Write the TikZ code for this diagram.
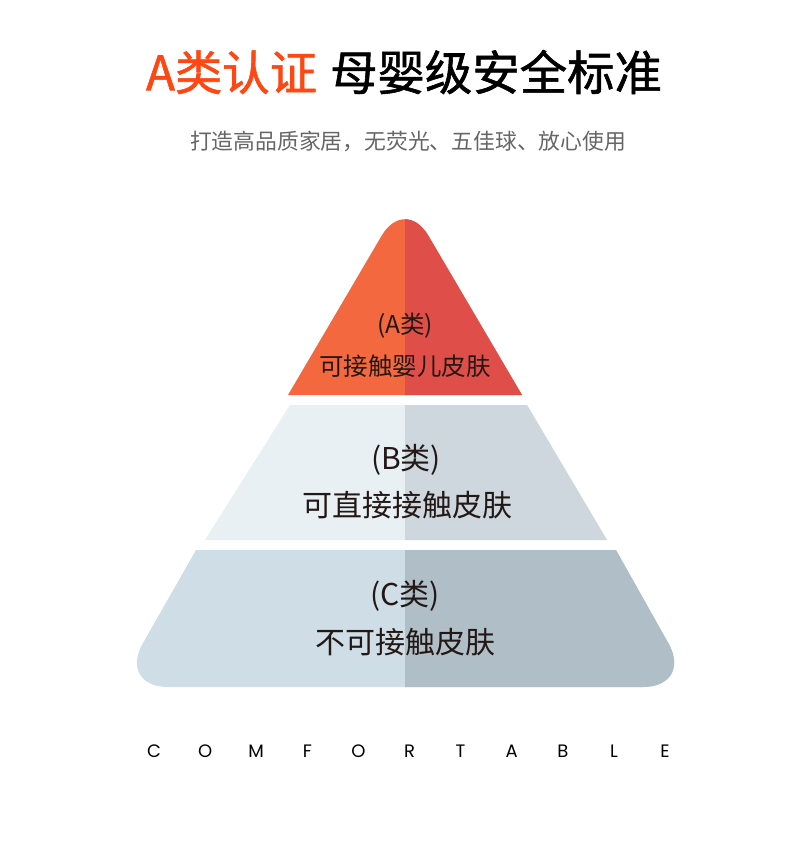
\documentclass[tikz,border=0pt]{standalone}
\usepackage{fontspec}
\setmainfont{Noto Sans CJK SC}
\newfontfamily\titlefont[FakeBold=1.2]{Noto Sans CJK SC}
\newfontfamily\latinfont{Poppins}

\definecolor{titleRed}{HTML}{FF4713}
\definecolor{subGray}{HTML}{666666}
\definecolor{labelInk}{HTML}{231815}
\definecolor{tierAl}{HTML}{F46840}
\definecolor{tierAr}{HTML}{E04E4A}
\definecolor{tierBl}{HTML}{E8F0F3}
\definecolor{tierBr}{HTML}{CDD7DD}
\definecolor{tierCl}{HTML}{CFDEE6}
\definecolor{tierCr}{HTML}{B0BFC7}

\begin{document}
\begin{tikzpicture}[
    x=1pt, y=-1pt,
    title/.style={font=\titlefont\fontsize{47.4}{47.4}\selectfont, inner sep=0pt},
    subtitle/.style={font=\fontsize{21.8}{22}\selectfont, text=subGray, inner sep=0pt},
    small/.style={font=\fontsize{24.5}{25}\selectfont, text=labelInk, inner sep=0pt},
    big/.style={font=\fontsize{30}{30}\selectfont, text=labelInk, inner sep=0pt},
    letter/.style={font=\latinfont\fontsize{18}{18}\selectfont, inner sep=0pt},
    tierA/.style={fill=tierAl, path picture={\fill[tierAr] (405,0) rectangle (800,900);}},
    tierB/.style={fill=tierBl, path picture={\fill[tierBr] (405,0) rectangle (800,900);}},
    tierC/.style={fill=tierCl, path picture={\fill[tierCr] (405,0) rectangle (800,900);}}
]
    \useasboundingbox[fill=white] (0,0) rectangle (790,859);

    \node[title] (title) at (404,72) {{\color{titleRed}A类认证}\hspace{13pt}母婴级安全标准};
    \node[subtitle] (sub) at (408,141) {打造高品质家居，无荧光、五佳球、放心使用};

    % pyramid
    \path[tierA] (288,395) [rounded corners=46pt] -- (405,196) [sharp corners] -- (522,395) -- cycle;
    \path[tierB] (290,405) -- (527,405) -- (607,540) -- (205,540) -- cycle;
    \path[tierC] (196,550) [rounded corners=50pt] -- (118,687) -- (693,687) [sharp corners] -- (616,550) -- cycle;

    \node[small] (a1) at (405,326) {(A类)};
    \node[small] (a2) at (405,366) {可接触婴儿皮肤};
    \node[big] (b1) at (406,460) {(B类)};
    \node[big] (b2) at (407,505) {可直接接触皮肤};
    \node[big] (c1) at (405,596) {(C类)};
    \node[big] (c2) at (405,642) {不可接触皮肤};

    \foreach \ch [count=\i from 0] in {C,O,M,F,O,R,T,A,B,L,E}
        \node[letter] (cf-\i) at (154+51.1*\i,751) {\ch};
\end{tikzpicture}
\end{document}
